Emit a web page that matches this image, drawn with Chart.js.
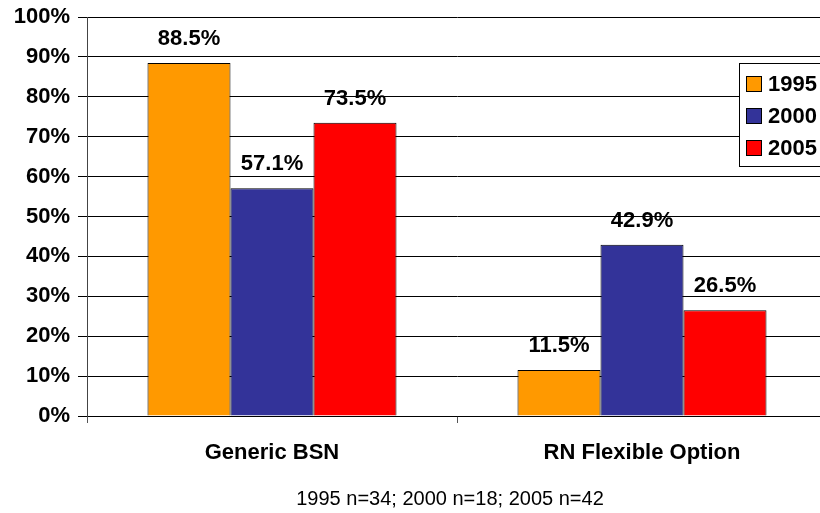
<!DOCTYPE html>
<html>
<head>
<meta charset="utf-8">
<script src="https://cdn.jsdelivr.net/npm/chart.js@4.4.0/dist/chart.umd.min.js"></script>
<style>
  html, body { margin: 0; padding: 0; background: #fff; overflow: hidden; }
  #wrap { width: 820px; height: 513px; overflow: hidden; }
  #wrap canvas { display: block; }
</style>
</head>
<body>
<div id="wrap"><canvas id="c" width="840" height="513"></canvas></div>
<script>
/* DATA */
const categories = ["Generic BSN", "RN Flexible Option"];
const years      = ["1995", "2000", "2005"];
const colors     = ["#FF9900", "#333399", "#FF0000"];
const values1995 = [88.5, 11.5];
const values2000 = [57.1, 42.9];
const values2005 = [73.5, 26.5];
const yTicks     = [0, 10, 20, 30, 40, 50, 60, 70, 80, 90, 100];
const footNote   = "1995 n=34; 2000 n=18; 2005 n=42";

const seriesValues = [values1995, values2000, values2005];
const FONT = 'Arial, "Liberation Sans", sans-serif';

/* VALUE LABELS ABOVE BARS */
const valueLabels = {
  id: 'valueLabels',
  afterDatasetsDraw(chart) {
    const ctx = chart.ctx;
    ctx.save();
    ctx.font = 'bold 22px ' + FONT;
    ctx.fillStyle = '#000';
    ctx.textAlign = 'center';
    ctx.textBaseline = 'middle';
    chart.data.datasets.forEach(function(ds, i) {
      chart.getDatasetMeta(i).data.forEach(function(bar, j) {
        ctx.fillText(ds.data[j].toFixed(1) + '%', bar.x, bar.y - 24);
      });
    });
    ctx.restore();
  }
};

/* LEGEND BOX + FOOTNOTE */
const boxLegend = {
  id: 'boxLegend',
  afterDraw(chart) {
    const ctx = chart.ctx;
    ctx.save();
    ctx.fillStyle = '#fff';
    ctx.strokeStyle = '#000';
    ctx.lineWidth = 1;
    ctx.fillRect(739.5, 63.5, 100, 103);
    ctx.strokeRect(739.5, 63.5, 100, 103);
    ctx.font = 'bold 22px ' + FONT;
    ctx.textBaseline = 'middle';
    ctx.textAlign = 'left';
    chart.data.datasets.forEach(function(ds, i) {
      const y = 84 + i * 32;
      ctx.fillStyle = ds.backgroundColor;
      ctx.fillRect(746.5, y - 7.5, 15, 15);
      ctx.strokeRect(746.5, y - 7.5, 15, 15);
      ctx.fillStyle = '#000';
      ctx.fillText(ds.label, 768, y + 1);
    });
    // footnote
    ctx.font = '20px ' + FONT;
    ctx.textAlign = 'center';
    ctx.fillText(footNote, 450, 499);
    ctx.restore();
  }
};

new Chart(document.getElementById('c'), {
  type: 'bar',
  data: {
    labels: categories,
    datasets: years.map(function(y, i) {
      return {
        label: y,
        data: seriesValues[i],
        backgroundColor: colors[i],
        borderColor: '#000',
        borderWidth: 1,
        borderSkipped: 'bottom',
        categoryPercentage: 0.673,
        barPercentage: 1.0
      };
    })
  },
  options: {
    responsive: false,
    animation: false,
    layout: { padding: { top: 17, right: 13, left: 0, bottom: 0 } },
    plugins: {
      legend: { display: false },
      tooltip: { enabled: false }
    },
    scales: {
      x: {
        afterFit: function(s) { s.height = 97; s.paddingLeft = 0; s.paddingRight = 0; },
        grid: {
          offset: true,
          drawOnChartArea: false,
          color: '#555',
          tickLength: 7
        },
        border: { color: '#000', width: 1 },
        ticks: {
          color: '#000',
          padding: 17,
          font: { family: FONT, size: 22, weight: 'bold' }
        }
      },
      y: {
        min: 0,
        max: 100,
        afterFit: function(s) { s.width = 87; s.paddingTop = 0; s.paddingBottom = 0; },
        afterBuildTicks: function(s) { s.ticks = yTicks.map(function(v) { return { value: v }; }); },
        grid: { color: '#000', tickLength: 9, lineWidth: 1 },
        border: { color: '#444', width: 1 },
        ticks: {
          color: '#000',
          padding: 8,
          font: { family: FONT, size: 22, weight: 'bold' },
          callback: function(v) { return v + '%'; }
        }
      }
    }
  },
  plugins: [valueLabels, boxLegend]
});
</script>
</body>
</html>
